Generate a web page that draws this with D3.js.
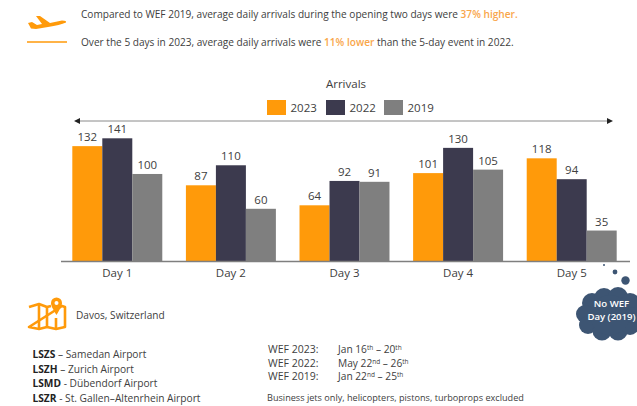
<!DOCTYPE html>
<html>
<head>
<meta charset="utf-8">
<script src="https://cdnjs.cloudflare.com/ajax/libs/d3/7.8.5/d3.min.js"></script>
<style>
  html, body { margin: 0; padding: 0; background: #fff; }
  svg { display: block; }
  text { font-family: "Open Sans", sans-serif; fill: #404040; }
</style>
</head>
<body>
<div id="mysvg"></div>
<script>
const days = ["Day 1", "Day 2", "Day 3", "Day 4", "Day 5"];
const years = ["2023", "2022", "2019"];
const arrivals2023 = [132, 87, 64, 101, 118];
const arrivals2022 = [141, 110, 92, 130, 94];
const arrivals2019 = [100, 60, 91, 105, 35];
const yearColors = ["#ff9a0a", "#3c3a4e", "#7f7f7f"];
const airports = [
    ["LSZS", " – Samedan Airport"],
    ["LSZH", " – Zurich Airport"],
    ["LSMD", " - Dübendorf Airport"],
    ["LSZR", " - St. Gallen–Altenrhein Airport"]
];
const wefDates = [
    ["WEF 2023:", "Jan 16", "th", " – 20", "th"],
    ["WEF 2022:", "May 22", "nd", " – 26", "th"],
    ["WEF 2019:", "Jan 22", "nd", " – 25", "th"]
];

const width = 637;
const height = 406;
const orange = "#ff9a0a";
const seriesByYear = [arrivals2023, arrivals2022, arrivals2019];

const svg = d3.select("#mysvg")
    .append("svg")
    .attr("width", width)
    .attr("height", height);

// scales
const x = d3.scaleBand()
    .domain(days)
    .range([60.5, 628.5])
    .paddingInner(0.208)
    .paddingOuter(0.104);

const xInner = d3.scaleBand()
    .domain(years)
    .range([0, x.bandwidth()]);

const y = d3.scaleLinear()
    .domain([0, 141])
    .range([261, 138.3]);

// bars
const dayGroups = svg.append("g")
    .selectAll("g")
    .data(days)
    .join("g")
    .attr("transform", d => `translate(${x(d)},0)`);

dayGroups.selectAll("rect")
    .data((d, i) => years.map((yr, j) => ({ year: yr, color: yearColors[j], value: seriesByYear[j][i] })))
    .join("rect")
    .attr("x", d => xInner(d.year))
    .attr("y", d => y(d.value))
    .attr("width", xInner.bandwidth())
    .attr("height", d => y(0) - y(d.value))
    .attr("fill", d => d.color);

dayGroups.selectAll("text")
    .data((d, i) => years.map((yr, j) => ({ year: yr, value: seriesByYear[j][i] })))
    .join("text")
    .attr("x", d => xInner(d.year) + xInner.bandwidth() / 2)
    .attr("y", d => y(d.value) - 5)
    .attr("text-anchor", "middle")
    .attr("font-size", "11.5px")
    .text(d => d.value);

// x axis
const xAxis = svg.append("g")
    .attr("transform", "translate(0,261)")
    .call(d3.axisBottom(x).tickSize(0).tickPadding(8));
xAxis.select(".domain").attr("stroke", "#7f7f7f").attr("stroke-width", 1.3).attr("d", "M61,0.5H630");
xAxis.selectAll("text")
    .attr("font-size", "11.5px")
    .style("font-family", '"Open Sans", sans-serif')
    .attr("fill", "#404040");

// arrow above the bars
svg.append("line")
    .attr("x1", 78).attr("x2", 608)
    .attr("y1", 121).attr("y2", 121)
    .attr("stroke", "#8a8a8a")
    .attr("stroke-width", 1);
svg.append("path").attr("d", "M74,121l6,-3v6z").attr("fill", "#222");
svg.append("path").attr("d", "M613,121l-6,-3v6z").attr("fill", "#222");

// title and legend
svg.append("text")
    .attr("x", 346).attr("y", 88)
    .attr("text-anchor", "middle")
    .attr("font-size", "11.5px")
    .text("Arrivals");

const legendX = d3.scaleOrdinal().domain(years).range([267, 326, 384]);
const legend = svg.append("g")
    .selectAll("g")
    .data(years)
    .join("g")
    .attr("transform", d => `translate(${legendX(d)},100)`);
legend.append("rect")
    .attr("width", 19).attr("height", 15)
    .attr("fill", (d, i) => yearColors[i]);
legend.append("text")
    .attr("x", 23.5).attr("y", 12)
    .attr("font-size", "11.5px")
    .text(d => d);

// header notes
const note1 = svg.append("text").attr("x", 81).attr("y", 18).attr("font-size", "10.1px");
note1.append("tspan").text("Compared to WEF 2019, average daily arrivals during the opening two days were ");
note1.append("tspan").attr("fill", "#f9a64a").attr("font-weight", 600).text("37% higher.");

const note2 = svg.append("text").attr("x", 81).attr("y", 46).attr("font-size", "10.1px");
note2.append("tspan").text("Over the 5 days in 2023, average daily arrivals were ");
note2.append("tspan").attr("fill", "#f9a64a").attr("font-weight", 600).text("11% lower");
note2.append("tspan").text(" than the 5-day event in 2022.");

// plane icon
svg.append("path")
    .attr("d", "M28,23 L32,22 L37,25 L42,24 L36,16 L40,16 L50,23 L62,20.5 Q67,20.5 66,22.5 Q60,25 48,27 L36,29 L31,28.5 Z")
    .attr("fill", orange);
svg.append("line")
    .attr("x1", 27).attr("x2", 67)
    .attr("y1", 42).attr("y2", 42)
    .attr("stroke", orange)
    .attr("stroke-width", 1.5);

// map icon
const mapIcon = svg.append("g").attr("fill", "none").attr("stroke", orange).attr("stroke-width", 2.6).attr("stroke-linejoin", "round");
mapIcon.append("path").attr("d", "M29,307 L39,304 L47,307 L51,306 M62,306 L65,307 V327 L56,329 L47,327 L39,329 L29,327 Z");
mapIcon.append("path").attr("d", "M39,304 V329 M47,307 V327 M56,318 V329");
svg.append("path")
    .attr("d", "M56.5,315 C53,309 51,306 51,303 A5.5,5.5 0 1 1 62,303 C62,306 60,309 56.5,315 Z")
    .attr("fill", orange);
svg.append("circle").attr("cx", 56.5).attr("cy", 303).attr("r", 2).attr("fill", "#fff");

svg.append("text")
    .attr("x", 76).attr("y", 319)
    .attr("font-size", "10.1px")
    .text("Davos, Switzerland");

// airports list
const airportText = svg.append("g")
    .selectAll("text")
    .data(airports)
    .join("text")
    .attr("x", 32.5)
    .attr("y", (d, i) => [358, 373, 387, 401.5][i])
    .attr("font-size", "10.2px");
airportText.append("tspan").attr("font-weight", 700).attr("fill", "#222").text(d => d[0]);
airportText.append("tspan").text(d => d[1]);

// WEF dates
const dateRows = svg.append("g")
    .selectAll("g")
    .data(wefDates)
    .join("g")
    .attr("transform", (d, i) => `translate(0,${[353, 367, 380][i]})`);
dateRows.append("text")
    .attr("x", 268)
    .attr("font-size", "10.5px")
    .text(d => d[0]);
const dateText = dateRows.append("text")
    .attr("x", 338)
    .attr("font-size", "10.2px");
dateText.append("tspan").text(d => d[1]);
dateText.append("tspan").attr("dy", -3).attr("font-size", "6.5px").text(d => d[2]);
dateText.append("tspan").attr("dy", 3).text(d => d[3]);
dateText.append("tspan").attr("dy", -3).attr("font-size", "6.5px").text(d => d[4]);

svg.append("text")
    .attr("x", 267).attr("y", 401)
    .attr("font-size", "9.15px")
    .text("Business jets only, helicopters, pistons, turboprops excluded");

// thought cloud
const cloudColor = "#3d5573";
const cloud = svg.append("g").attr("fill", cloudColor);
[[604, 265, 1], [615, 272, 2.4], [625.5, 280.5, 4.2]].forEach(c => {
    cloud.append("circle").attr("cx", c[0]).attr("cy", c[1]).attr("r", c[2]);
});
[[592, 303, 10], [604, 298, 10], [618, 297, 10], [630, 303, 10], [585, 314, 9], [588, 325, 9], [602, 331, 9.5], [618, 331, 9.5], [630, 326, 9], [610, 315, 20], [633, 315, 8]].forEach(c => {
    cloud.append("circle").attr("cx", c[0]).attr("cy", c[1]).attr("r", c[2]);
});
svg.append("text")
    .attr("x", 611.5).attr("y", 307)
    .attr("text-anchor", "middle")
    .attr("font-size", "9.6px").attr("font-weight", 600)
    .style("fill", "#fff")
    .text("No WEF");
svg.append("text")
    .attr("x", 611.5).attr("y", 320)
    .attr("text-anchor", "middle")
    .attr("font-size", "9.6px").attr("font-weight", 600)
    .style("fill", "#fff")
    .text("Day (2019)");
</script>
</body>
</html>
